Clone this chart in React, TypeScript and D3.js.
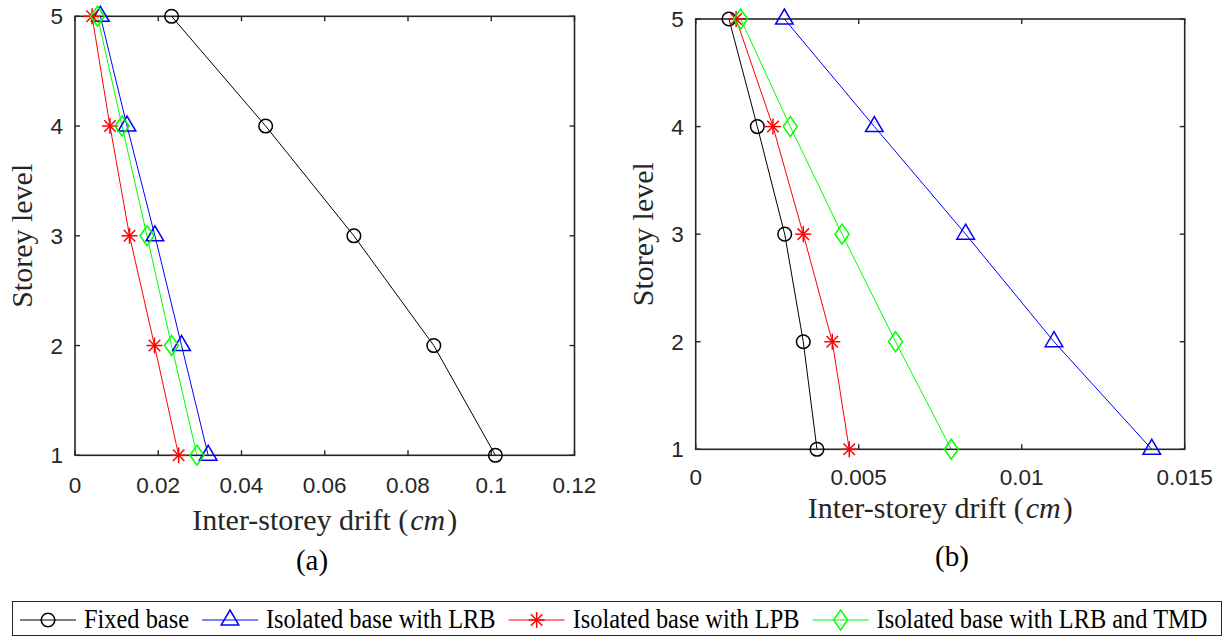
import React from "react";
import * as d3 from "d3";

// Storey levels (y) and inter-storey drift (cm) for each base configuration
const storeys = [1, 2, 3, 4, 5];

const fixedA = [0.101, 0.0862, 0.067, 0.0458, 0.0232];
const lrbA = [0.032, 0.0256, 0.0192, 0.0125, 0.0061];
const lpbA = [0.0249, 0.0191, 0.0131, 0.0084, 0.0041];
const tmdA = [0.0293, 0.0232, 0.0173, 0.0113, 0.0054];

const fixedB = [0.00372, 0.0033, 0.00273, 0.00189, 0.00102];
const lrbB = [0.01399, 0.01099, 0.00828, 0.00548, 0.00272];
const lpbB = [0.00471, 0.00419, 0.0033, 0.00237, 0.00124];
const tmdB = [0.00784, 0.00613, 0.00449, 0.0029, 0.00138];

const xTicksA = [0, 0.02, 0.04, 0.06, 0.08, 0.1, 0.12];
const xTickLabelsA = ["0", "0.02", "0.04", "0.06", "0.08", "0.1", "0.12"];
const xTicksB = [0, 0.005, 0.01, 0.015];
const xTickLabelsB = ["0", "0.005", "0.01", "0.015"];
const yTicks = [1, 2, 3, 4, 5];

const seriesNames = [
  "Fixed base",
  "Isolated base with LRB",
  "Isolated base with LPB",
  "Isolated base with LRB and TMD",
];
const seriesColors = ["#000000", "#0000ff", "#ff0000", "#00ff00"];
const seriesMarkers = ["circle", "triangle", "asterisk", "diamond"];

const AXIS = "#262626";
const SANS = "'Liberation Sans', Arial, Helvetica, sans-serif";
const SERIF = "'Liberation Serif', 'Times New Roman', Times, serif";

function Marker({ kind, x, y, color }: { kind: string; x: number; y: number; color: string }) {
  const sw = 1.5;
  if (kind === "circle") {
    return <circle cx={x} cy={y} r={6.8} fill="none" stroke={color} strokeWidth={sw} />;
  }
  if (kind === "triangle") {
    const p = [
      [x, y - 10],
      [x + 8.8, y + 5],
      [x - 8.8, y + 5],
    ];
    return <polygon points={p.map((q) => q.join(",")).join(" ")} fill="none" stroke={color} strokeWidth={sw} />;
  }
  if (kind === "diamond") {
    const p = [
      [x, y - 10],
      [x + 7, y],
      [x, y + 10],
      [x - 7, y],
    ];
    return <polygon points={p.map((q) => q.join(",")).join(" ")} fill="none" stroke={color} strokeWidth={sw} />;
  }
  // asterisk: horizontal, vertical and two diagonals
  const r = 8;
  const d = r * 0.72;
  return (
    <g stroke={color} strokeWidth={sw}>
      <line x1={x - r} y1={y} x2={x + r} y2={y} />
      <line x1={x} y1={y - r} x2={x} y2={y + r} />
      <line x1={x - d} y1={y - d} x2={x + d} y2={y + d} />
      <line x1={x - d} y1={y + d} x2={x + d} y2={y - d} />
    </g>
  );
}

type PanelProps = {
  left: number;
  right: number;
  top: number;
  bottom: number;
  xMax: number;
  xTicks: number[];
  xTickLabels: string[];
  data: number[][];
  yLabelX: number;
  tickBaseline: number;
  xLabelBaseline: number;
  tag: string;
  tagX: number;
  tagBaseline: number;
};

function Panel(p: PanelProps) {
  const x = d3.scaleLinear().domain([0, p.xMax]).range([p.left, p.right]);
  const y = d3.scaleLinear().domain([1, 5]).range([p.bottom, p.top]);
  const line = d3
    .line<number>()
    .x((v) => x(v))
    .y((_, i) => y(storeys[i]));
  const tl = 5;
  const midX = (p.left + p.right) / 2;
  const midY = (p.top + p.bottom) / 2;
  return (
    <g>
      {p.data.map((vals, s) => (
        <path key={"l" + s} d={line(vals) || ""} fill="none" stroke={seriesColors[s]} strokeWidth={1} />
      ))}
      {/* axes box */}
      <rect
        x={p.left}
        y={p.top}
        width={p.right - p.left}
        height={p.bottom - p.top}
        fill="none"
        stroke={AXIS}
        strokeWidth={1.6}
      />
      {p.xTicks.map((t, i) => (
        <g key={"xt" + i}>
          <line x1={x(t)} x2={x(t)} y1={p.bottom} y2={p.bottom - tl} stroke={AXIS} strokeWidth={1.4} />
          <line x1={x(t)} x2={x(t)} y1={p.top} y2={p.top + tl} stroke={AXIS} strokeWidth={1.4} />
          <text
            x={x(t)}
            y={p.tickBaseline}
            textAnchor="middle"
            fontFamily={SANS}
            fontSize={22.5}
            fill={AXIS}
          >
            {p.xTickLabels[i]}
          </text>
        </g>
      ))}
      {yTicks.map((t) => (
        <g key={"yt" + t}>
          <line x1={p.left} x2={p.left + tl} y1={y(t)} y2={y(t)} stroke={AXIS} strokeWidth={1.4} />
          <line x1={p.right} x2={p.right - tl} y1={y(t)} y2={y(t)} stroke={AXIS} strokeWidth={1.4} />
          <text
            x={p.left - 12}
            y={y(t)}
            dy="0.36em"
            textAnchor="end"
            fontFamily={SANS}
            fontSize={22.5}
            fill={AXIS}
          >
            {t}
          </text>
        </g>
      ))}
      {p.data.map((vals, s) =>
        vals.map((v, i) => (
          <Marker key={"m" + s + "-" + i} kind={seriesMarkers[s]} x={x(v)} y={y(storeys[i])} color={seriesColors[s]} />
        ))
      )}
      <text
        transform={`translate(${p.yLabelX},${midY}) rotate(-90)`}
        textAnchor="middle"
        fontFamily={SERIF}
        fontSize={30}
        fill={AXIS}
      >
        Storey level
      </text>
      <text x={midX} y={p.xLabelBaseline} textAnchor="middle" fontFamily={SERIF} fontSize={30} fill={AXIS}>
        Inter-storey drift (<tspan fontStyle="italic" dx={2}>cm</tspan>
        <tspan dx={2}>)</tspan>
      </text>
      <text x={p.tagX} y={p.tagBaseline} textAnchor="middle" fontFamily={SERIF} fontSize={29} fill="#000">
        {p.tag}
      </text>
    </g>
  );
}

function measure(text: string, font: string): number {
  if (typeof document === "undefined") return text.length * 10;
  const c = document.createElement("canvas");
  const ctx = c.getContext("2d");
  if (!ctx) return text.length * 10;
  ctx.font = font;
  return ctx.measureText(text).width;
}

function Legend() {
  const legendFont = 24.4;
  const lineY = 620;
  const baseY = 628;
  let cursor = 20;
  const items = seriesNames.map((name, s) => {
    const x0 = cursor;
    const lineLen = 56;
    const textX = x0 + lineLen + 8;
    const w = measure(name, `${legendFont}px 'Liberation Serif'`);
    cursor = textX + w + 13;
    return (
      <g key={name}>
        <line x1={x0} x2={x0 + lineLen} y1={lineY} y2={lineY} stroke={seriesColors[s]} strokeWidth={1.2} />
        <Marker kind={seriesMarkers[s]} x={x0 + lineLen / 2} y={lineY} color={seriesColors[s]} />
        {/* legend glyphs are slightly condensed/tall */}
        <text
          transform={`translate(${textX},${baseY}) scale(1,1.12)`}
          fontFamily={SERIF}
          fontSize={legendFont}
          fill="#000"
        >
          {name}
        </text>
      </g>
    );
  });
  return (
    <g>
      <rect x={12.5} y={601.5} width={1209} height={34} fill="#fff" stroke={AXIS} strokeWidth={1} />
      {items}
    </g>
  );
}

export default function App() {
  return (
    <svg
      width={1225}
      height={636}
      viewBox="0 0 1225 636"
      style={{ position: "absolute", left: 0, top: 0, display: "block", background: "#fff" }}
    >
      <rect width={1225} height={636} fill="#fff" />
      <Panel
        left={75}
        right={574.5}
        top={16.3}
        bottom={455.3}
        xMax={0.12}
        xTicks={xTicksA}
        xTickLabels={xTickLabelsA}
        data={[fixedA, lrbA, lpbA, tmdA]}
        yLabelX={32}
        tickBaseline={493}
        xLabelBaseline={530}
        tag="(a)"
        tagX={312}
        tagBaseline={570}
      />
      <Panel
        left={695.7}
        right={1184.7}
        top={19}
        bottom={449.3}
        xMax={0.015}
        xTicks={xTicksB}
        xTickLabels={xTickLabelsB}
        data={[fixedB, lrbB, lpbB, tmdB]}
        yLabelX={653}
        tickBaseline={485}
        xLabelBaseline={518}
        tag="(b)"
        tagX={952}
        tagBaseline={566}
      />
      <Legend />
    </svg>
  );
}
